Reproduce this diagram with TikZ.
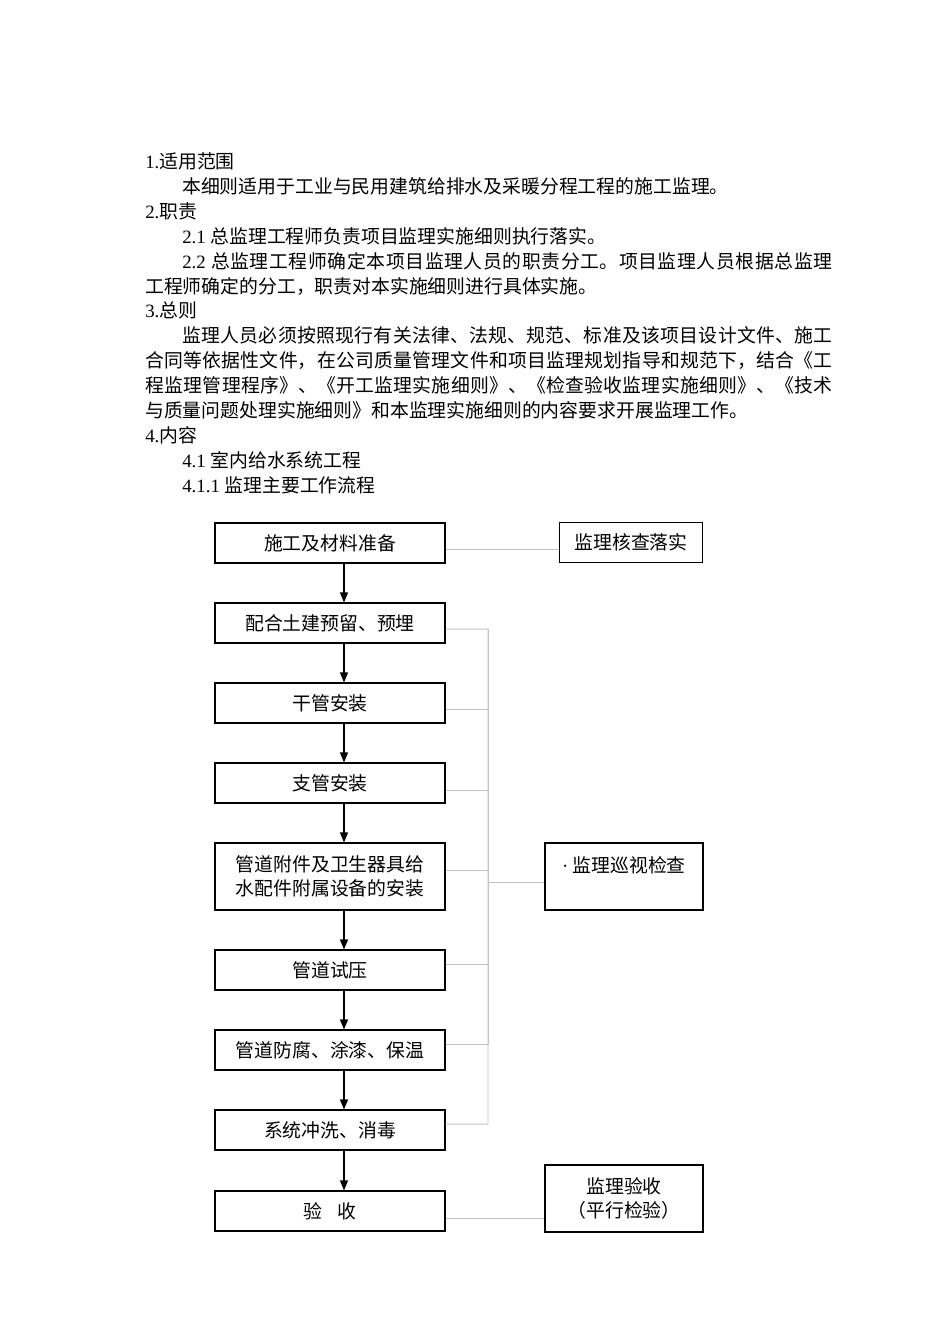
\documentclass[tikz,border=0pt]{standalone}
\usepackage{fontspec}
\setmainfont{Liberation Serif}
\newfontfamily\cjk{Noto Sans CJK SC}
\usetikzlibrary{arrows.meta,positioning}
\XeTeXlinebreaklocale "zh"
\XeTeXlinebreakskip=0pt plus 2pt
\definecolor{linkgray}{HTML}{C4C4C4}
\newcommand{\bodyfont}{\cjk\fontsize{13.4}{17}\selectfont}
\newcommand{\fullline}[2]{\parbox[t]{#1}{\parfillskip=0pt\relax #2}}
\newcommand{\dg}[1]{{\rmfamily #1}}

\begin{document}
\begin{tikzpicture}[x=0.025cm, y=-0.025cm,
    txt/.style={anchor=base west, inner sep=0pt, font=\bodyfont},
    stage/.style={draw, line width=0.8pt, minimum width=5.75cm, minimum height=1cm,
        inner sep=0pt, align=center, font=\bodyfont},
    check/.style={draw, line width=0.8pt, minimum width=3.95cm, minimum height=1.675cm,
        inner sep=0pt, align=center, font=\bodyfont},
    flow/.style={-{Triangle[width=0.2cm,length=0.25cm]}, line width=0.8pt},
    link/.style={draw=linkgray, line width=0.7pt}]
    \useasboundingbox (0,0) rectangle (950,1344);

    % text above the chart
    \node[txt] (t1) at (145,168.5) {\dg{1.}适用范围};
    \node[txt] (t2) at (182,193.4) {本细则适用于工业与民用建筑给排水及采暖分程工程的施工监理。};
    \node[txt] (t3) at (145,218.3) {\dg{2.}职责};
    \node[txt] (t4) at (182,243.2) {\dg{2.1 }总监理工程师负责项目监理实施细则执行落实。};
    \node[txt] (t5) at (182,268.1) {\fullline{16.25cm}{\dg{2.2 }总监理工程师确定本项目监理人员的职责分工。项目监理人员根据总监理}};
    \node[txt] (t6) at (145,293.0) {工程师确定的分工，职责对本实施细则进行具体实施。};
    \node[txt] (t7) at (145,317.9) {\dg{3.}总则};
    \node[txt] (t8) at (182,342.8) {\fullline{16.25cm}{监理人员必须按照现行有关法律、法规、规范、标准及该项目设计文件、施工}};
    \node[txt] (t9) at (145,367.7) {\fullline{17.175cm}{合同等依据性文件，在公司质量管理文件和项目监理规划指导和规范下，结合《工}};
    \node[txt] (t10) at (145,392.6) {\fullline{17.175cm}{程监理管理程序》、《开工监理实施细则》、《检查验收监理实施细则》、《技术}};
    \node[txt] (t11) at (145,417.5) {与质量问题处理实施细则》和本监理实施细则的内容要求开展监理工作。};
    \node[txt] (t12) at (145,442.4) {\dg{4.}内容};
    \node[txt] (t13) at (182,467.3) {\dg{4.1 }室内给水系统工程};
    \node[txt] (t14) at (182,492.2) {\dg{4.1.1 }监理主要工作流程};

    % main flow
    \node[stage] (b1) at (330,543) {施工及材料准备};
    \node[stage] (b2) at (330,623) {配合土建预留、预埋};
    \node[stage] (b3) at (330,703) {干管安装};
    \node[stage] (b4) at (330,783) {支管安装};
    \node[stage, minimum height=1.675cm] (b5) at (330,876.5) {管道附件及卫生器具给\\水配件附属设备的安装};
    \node[stage] (b6) at (330,970) {管道试压};
    \node[stage] (b7) at (330,1050) {管道防腐、涂漆、保温};
    \node[stage] (b8) at (330,1130) {系统冲洗、消毒};
    \node[stage] (b9) at (330,1211) {验\hspace{0.8em}收};

    % supervision boxes
    \node[check, minimum width=3.575cm, minimum height=1cm] (r1) at (631,542.5) {监理核查落实};
    \node[check] (r2) at (624,876.5) {\dg{·} 监理巡视检查\\\mbox{}};
    \node[check] (r3) at (624,1198.5) {监理验收\\（平行检验）};

    \foreach \a/\b in {b1/b2,b2/b3,b3/b4,b4/b5,b5/b6,b6/b7,b7/b8,b8/b9}
        \draw[flow] ([xshift=0.35cm]\a.south) -- ([xshift=0.35cm]\b.north);

    % grey links
    \coordinate (w1) at ([yshift=-0.15cm]b1.east);
    \draw[link] (w1) -- (w1 -| r1.west);

    \coordinate (sT) at (488,629);
    \coordinate (sB) at (488,1124);
    \draw[link] ([yshift=-0.15cm]b2.east) -- (sT) -- (sB);
    \draw[link] ([yshift=0.15cm]b8.east) -- (sB);
    \foreach \n/\dy in {b3/-0.15cm,b4/-0.175cm,b5/0.16cm,b6/0.15cm,b7/0.15cm}
        \draw[link] ([yshift=\dy]\n.east) -| (sT);

    \coordinate (w2) at ([yshift=-0.16cm]r2.west);
    \draw[link] (w2 -| sT) -- (w2);

    \coordinate (w9) at ([yshift=-0.175cm]b9.east);
    \draw[link] (w9) -- (w9 -| r3.west);
\end{tikzpicture}
\end{document}
